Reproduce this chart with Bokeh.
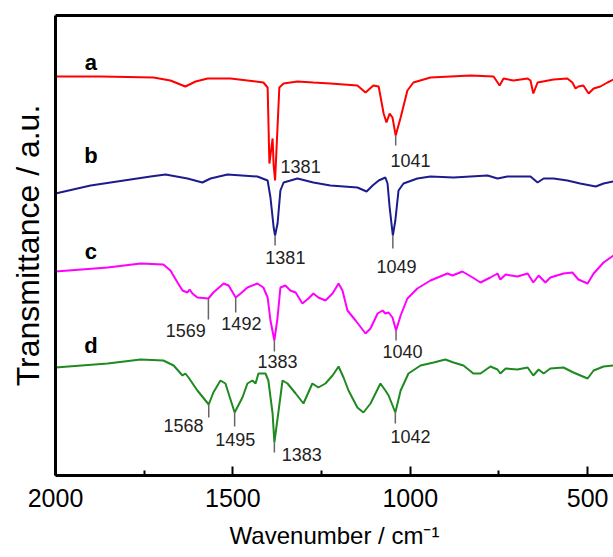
from bokeh.plotting import figure
from bokeh.models import Range1d, FixedTicker, LinearAxis, ColumnDataSource
from bokeh.core.properties import value
from bokeh.embed import file_html
from bokeh.resources import INLINE

# ---- data (wavenumber / cm-1, transmittance in a.u. with vertical offsets) ----
a_x = [2000, 1873, 1724, 1676, 1634, 1605, 1571, 1507, 1414, 1402, 1397, 1388, 1385, 1381, 1369, 1357,
       1318, 1273, 1225, 1149, 1126, 1104, 1089, 1075, 1067, 1058, 1050, 1041, 1027, 1008, 991, 943,
       830, 765, 748, 737, 709, 669, 661, 653, 641, 596, 557, 543, 534, 526, 512, 497, 483, 464, 444, 427]
a_y = [398, 398, 397, 394, 388, 393, 396, 396, 392, 387, 311, 336, 309, 294, 387, 391,
       393, 392, 391, 389, 382, 389, 388, 361, 352, 361, 357, 339, 357, 384, 392, 397,
       399, 398, 389, 396, 394, 396, 394, 381, 392, 395, 396, 392, 386, 388, 389, 381, 386, 388, 392, 395]

b_x = [2000, 1901, 1732, 1690, 1628, 1586, 1563, 1515, 1431, 1402, 1394, 1385, 1381, 1374, 1366, 1357,
       1318, 1273, 1225, 1149, 1123, 1106, 1089, 1070, 1064, 1058, 1049, 1042, 1033, 1019, 980, 943,
       878, 782, 754, 726, 661, 641, 624, 596, 557, 521, 477, 455, 427]
b_y = [281, 289, 298, 300, 296, 292, 296, 300, 298, 294, 277, 247, 239, 251, 284, 292,
       296, 292, 289, 287, 283, 289, 294, 297, 291, 267, 239, 254, 284, 291, 296, 298,
       297, 299, 296, 298, 298, 292, 296, 296, 294, 291, 288, 291, 293]

c_x = [2000, 1853, 1760, 1696, 1676, 1656, 1642, 1628, 1622, 1614, 1600, 1569, 1555, 1526, 1512, 1492,
       1478, 1459, 1431, 1414, 1402, 1394, 1383, 1374, 1366, 1352, 1338, 1323, 1304, 1287, 1273, 1259,
       1239, 1219, 1202, 1191, 1177, 1154, 1126, 1112, 1092, 1078, 1070, 1061, 1050, 1040, 1027, 1008,
       980, 943, 895, 881, 853, 824, 802, 774, 754, 746, 731, 698, 669, 653, 638, 619, 605, 568,
       543, 526, 500, 483, 455, 427]
c_y = [203, 207, 211, 210, 204, 192, 184, 182, 185, 181, 177, 176, 182, 191, 189, 177,
       181, 187, 191, 187, 177, 154, 134, 157, 187, 189, 184, 182, 171, 176, 181, 177,
       174, 181, 191, 184, 164, 154, 141, 146, 161, 164, 161, 162, 157, 144, 159, 176,
       186, 194, 201, 199, 203, 197, 192, 197, 201, 195, 200, 198, 201, 192, 199, 192, 197, 201,
       202, 195, 191, 201, 212, 219]

d_x = [2000, 1853, 1760, 1696, 1667, 1642, 1634, 1625, 1600, 1568, 1555, 1535, 1521, 1495, 1473, 1459,
       1445, 1436, 1428, 1408, 1400, 1388, 1383, 1371, 1360, 1346, 1323, 1301, 1276, 1259, 1239, 1219,
       1202, 1188, 1174, 1149, 1132, 1112, 1084, 1070, 1061, 1042, 1027, 1005, 971, 934, 901, 878,
       850, 822, 802, 774, 754, 746, 731, 698, 669, 653, 638, 624, 605, 568, 540, 500, 483, 455, 427]
d_y = [107, 111, 115, 114, 109, 99, 101, 97, 84, 70, 82, 94, 91, 62, 77, 91,
       94, 91, 101, 101, 94, 61, 32, 64, 94, 91, 81, 71, 91, 87, 91, 99,
       108, 97, 84, 67, 62, 71, 91, 84, 79, 62, 84, 101, 109, 112, 115, 112,
       109, 101, 101, 108, 105, 101, 106, 105, 107, 99, 105, 101, 106, 107, 102, 96, 104, 108, 109]

series_names = ["a", "b", "c", "d"]
series_colors = ["#ff0000", "#1c1c8c", "#ff00ff", "#1f8a1f"]

# peak annotations: text, peak position, curve minimum (a.u.)
peak_text = ["1381", "1041", "1381", "1049", "1569", "1492", "1383", "1040", "1568", "1495", "1383", "1042"]
peak_x = [1381, 1041, 1381, 1049, 1569, 1492, 1383, 1040, 1568, 1495, 1383, 1042]
peak_min = [294, 339, 239, 239, 176, 177, 134, 144, 70, 62, 32, 62]

# ---- layout of the annotations ----
tick_len = [0, 10, 10, 13, 21, 15, 11, 10, 13, 14, 10, 11]
text_pos_x = [1309, 999, 1352, 1039, 1633, 1476, 1374, 1022, 1639, 1493, 1306, 999]
text_pos_y = [308, 314, 217, 208, 144, 151, 113, 123, 49, 35, 20, 38]
letter_x = [1900, 1900, 1900, 1900]
letter_y = [412, 319, 223, 129]

FONT = "Liberation Sans"

p = figure(width=613, height=557, output_backend="svg", toolbar_location=None,
           x_range=Range1d(2000, 427), y_range=Range1d(-1, 459),
           min_border_left=55, min_border_right=0, min_border_top=15, min_border_bottom=82)
p.outline_line_color = None
p.grid.visible = False
p.background_fill_color = "white"
p.border_fill_color = "white"

xa = p.xaxis[0]
xa.ticker = FixedTicker(ticks=[2000, 1500, 1000, 500], minor_ticks=[1750, 1250, 750])
xa.major_tick_in = 9
xa.major_tick_out = 0
xa.minor_tick_in = 5
xa.minor_tick_out = 0
xa.axis_line_width = 3
xa.major_tick_line_width = 2
xa.minor_tick_line_width = 2
xa.major_label_text_font = FONT
xa.major_label_text_font_size = "25px"
xa.major_label_text_color = "black"
xa.major_label_standoff = 13
xa.axis_label = "Wavenumber / cm\u207b\u00b9"
xa.axis_label_text_font = FONT
xa.axis_label_text_font_style = "normal"
xa.axis_label_text_font_size = "24px"
xa.axis_label_text_color = "black"
xa.axis_label_standoff = 12

ya = p.yaxis[0]
ya.ticker = FixedTicker(ticks=[])
ya.major_tick_in = 0
ya.major_tick_out = 0
ya.minor_tick_in = 0
ya.minor_tick_out = 0
ya.axis_line_width = 3
ya.axis_label = "Transmittance / a.u."
ya.axis_label_text_font = FONT
ya.axis_label_text_font_style = "normal"
ya.axis_label_text_font_size = "32px"
ya.axis_label_text_color = "black"
ya.axis_label_standoff = 10

top = LinearAxis(ticker=FixedTicker(ticks=[]), axis_line_width=3,
                 major_tick_in=0, major_tick_out=0, minor_tick_in=0, minor_tick_out=0,
                 major_label_text_font_size="0px")
p.add_layout(top, "above")

for xs, ys, c in zip([a_x, b_x, c_x, d_x], [a_y, b_y, c_y, d_y], series_colors):
    p.line(xs, ys, line_color=c, line_width=2)

seg_src = ColumnDataSource(dict(
    x0=[x for x, L in zip(peak_x, tick_len) if L > 0],
    y0=[m for m, L in zip(peak_min, tick_len) if L > 0],
    y1=[m - L for m, L in zip(peak_min, tick_len) if L > 0],
))
p.segment(x0="x0", y0="y0", x1="x0", y1="y1", source=seg_src, line_color="#666666", line_width=1.5)

p.text(x=text_pos_x, y=text_pos_y, text=peak_text, text_font=value(FONT), text_font_size="18px",
       text_align="center", text_baseline="middle", text_color="#222222")

p.text(x=letter_x, y=letter_y, text=series_names, text_font=value(FONT), text_font_size="22px",
       text_font_style="bold", text_align="center", text_baseline="middle", text_color="black")

open("out.html", "w").write(file_html(p, INLINE))
